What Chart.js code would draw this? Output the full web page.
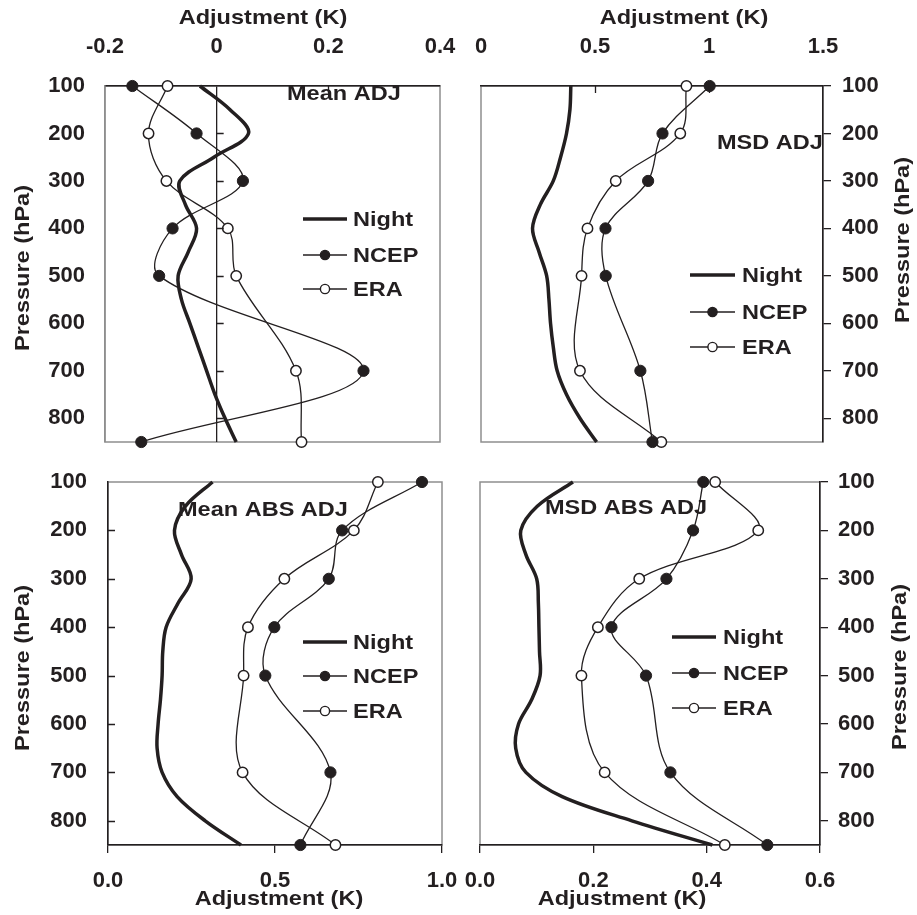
<!DOCTYPE html>
<html>
<head>
<meta charset="utf-8">
<script src="https://cdn.jsdelivr.net/npm/chart.js@4.4.1/dist/chart.umd.min.js"></script>
<style>
  html, body { margin: 0; padding: 0; background: #fff; }
  #wrap { position: relative; width: 917px; height: 915px; overflow: hidden; background: #fff; }
  #wrap canvas { position: absolute; }
</style>
</head>
<body>
<div id="wrap"></div>
<script>
const INK = '#231f20';
const FRAME = '#8e8e8e';
const FONT = '"Liberation Sans", Arial, sans-serif';
const STRETCH = 1.12; // the original lettering is a bit wide

// pressure levels (hPa)
const levels = [100, 200, 300, 400, 500, 700, 850];
const nightLevels = [100, 150, 200, 250, 300, 350, 400, 450, 500, 550, 600, 650, 700, 750, 800, 850];
const pressureTicks = [100, 200, 300, 400, 500, 600, 700, 800];
const seriesNames = ['Night', 'NCEP', 'ERA'];

// Mean ADJ (K)
const meanNight = [-0.030, 0.024, 0.057, -0.005, -0.066, -0.056, -0.036, -0.051, -0.069, -0.063, -0.048, -0.033, -0.018, -0.003, 0.015, 0.035];
const meanNcep = [-0.151, -0.036, 0.047, -0.079, -0.103, 0.263, -0.135];
const meanEra = [-0.088, -0.122, -0.090, 0.020, 0.035, 0.142, 0.152];
const meanTicks = [-0.2, 0, 0.2, 0.4];
const meanTickLabels = ['-0.2', '0', '0.2', '0.4'];

// MSD ADJ (K)
const msdNight = [0.394, 0.390, 0.375, 0.349, 0.317, 0.260, 0.226, 0.255, 0.288, 0.298, 0.305, 0.317, 0.334, 0.375, 0.434, 0.507];
const msdNcep = [1.003, 0.796, 0.733, 0.546, 0.547, 0.699, 0.752];
const msdEra = [0.901, 0.874, 0.591, 0.467, 0.441, 0.434, 0.791];
const msdTicks = [0, 0.5, 1, 1.5];
const msdTickLabels = ['0', '0.5', '1', '1.5'];

// Mean ABS ADJ (K)
const absNight = [0.313, 0.232, 0.199, 0.220, 0.249, 0.210, 0.174, 0.164, 0.162, 0.157, 0.150, 0.147, 0.162, 0.207, 0.291, 0.398];
const absNcep = [0.940, 0.701, 0.661, 0.498, 0.471, 0.666, 0.576];
const absEra = [0.808, 0.736, 0.528, 0.419, 0.406, 0.403, 0.681];
const absTicks = [0, 0.5, 1];
const absTickLabels = ['0.0', '0.5', '1.0'];

// MSD ABS ADJ (K)
const msdAbsNight = [0.164, 0.101, 0.072, 0.081, 0.100, 0.103, 0.104, 0.105, 0.106, 0.091, 0.068, 0.063, 0.081, 0.145, 0.268, 0.410];
const msdAbsNcep = [0.394, 0.376, 0.329, 0.232, 0.293, 0.336, 0.507];
const msdAbsEra = [0.415, 0.491, 0.281, 0.208, 0.179, 0.220, 0.432];
const msdAbsTicks = [0, 0.2, 0.4, 0.6];
const msdAbsTickLabels = ['0.0', '0.2', '0.4', '0.6'];

const xTitle = 'Adjustment (K)';
const yTitle = 'Pressure (hPa)';

// panel layout, page coordinates
const panels = [
  {
    title: 'Mean ADJ', night: meanNight, ncep: meanNcep, era: meanEra,
    xTicks: meanTicks, xLabels: meanTickLabels, xMin: -0.2, xMax: 0.4,
    left: 0, top: 0, w: 470, h: 460, area: { l: 105, t: 86, r: 440, b: 442 },
    xPos: 'top', yPos: 'left', xPad: 26, yPad: 20,
    xBorder: INK, yBorder: FRAME, zeroLine: true,
    titlePos: [287, 94], xTitlePos: [263, 18], yTitlePos: [23, 268],
    legend: { x1: 303, x2: 347, tx: 353, ys: [219, 255, 289] },
    yMarksAt: 0, xMarks: [0.2]
  },
  {
    title: 'MSD ADJ', night: msdNight, ncep: msdNcep, era: msdEra,
    xTicks: msdTicks, xLabels: msdTickLabels, xMin: 0, xMax: 1.5,
    left: 450, top: 0, w: 467, h: 460, area: { l: 481, t: 86, r: 823, b: 442 },
    xPos: 'top', yPos: 'right', xPad: 26, yPad: 11,
    xBorder: INK, yBorder: INK, zeroLine: false,
    titlePos: [717, 143], xTitlePos: [684, 18], yTitlePos: [903, 240],
    legend: { x1: 690, x2: 735, tx: 742, ys: [275, 312, 347] },
    yMarksAt: null, xMarks: [0.5, 1]
  },
  {
    title: 'Mean ABS ADJ', night: absNight, ncep: absNcep, era: absEra,
    xTicks: absTicks, xLabels: absTickLabels, xMin: 0, xMax: 1,
    left: 0, top: 455, w: 470, h: 460, area: { l: 108, t: 482, r: 442, b: 845 },
    xPos: 'bottom', yPos: 'left', xPad: 15, yPad: 21,
    xBorder: INK, yBorder: INK, zeroLine: false,
    titlePos: [178, 510], xTitlePos: [279, 899], yTitlePos: [23, 668],
    legend: { x1: 303, x2: 347, tx: 353, ys: [642, 676, 711] },
    yMarksAt: 0, xMarks: []
  },
  {
    title: 'MSD ABS ADJ', night: msdAbsNight, ncep: msdAbsNcep, era: msdAbsEra,
    xTicks: msdAbsTicks, xLabels: msdAbsTickLabels, xMin: 0, xMax: 0.6,
    left: 450, top: 455, w: 467, h: 460, area: { l: 480, t: 482, r: 820, b: 845 },
    xPos: 'bottom', yPos: 'right', xPad: 15, yPad: 10,
    xBorder: INK, yBorder: INK, zeroLine: false,
    titlePos: [545, 508], xTitlePos: [622, 899], yTitlePos: [900, 667],
    legend: { x1: 672, x2: 716, tx: 723, ys: [637, 673, 708] },
    yMarksAt: null, xMarks: []
  }
];

function pts(values, lv) {
  return lv.map((p, i) => ({ x: values[i], y: p }));
}

function drawText(ctx, text, x, y, align, rot, size) {
  ctx.save();
  ctx.translate(x, y);
  if (rot) ctx.rotate(rot);
  ctx.scale(STRETCH, 1);
  ctx.font = 'bold ' + size + 'px ' + FONT;
  ctx.fillStyle = INK;
  ctx.textAlign = align;
  ctx.textBaseline = 'middle';
  ctx.fillText(text, 0, 0);
  ctx.restore();
}

// frame, inner tick marks, legend and labels
function makeDeco(p) {
  return {
    id: 'deco',
    beforeDraw(chart) {
      const { ctx, chartArea: a } = chart;
      ctx.save();
      ctx.strokeStyle = FRAME;
      ctx.lineWidth = 1.5;
      ctx.strokeRect(a.left, a.top, a.right - a.left, a.bottom - a.top);
      ctx.restore();
    },
    afterDraw(chart) {
      const { ctx, chartArea: a, scales } = chart;
      const ox = p.left, oy = p.top;
      ctx.save();
      ctx.strokeStyle = INK;
      ctx.lineWidth = 1.3;
      ctx.beginPath();
      if (p.yMarksAt !== null) {
        const x0 = scales.x.getPixelForValue(p.yMarksAt);
        pressureTicks.forEach(v => {
          if (v === 100) return;
          const y = Math.round(scales.y.getPixelForValue(v)) + 0.5;
          ctx.moveTo(x0, y); ctx.lineTo(x0 + 7, y);
        });
      }
      p.xMarks.forEach(v => {
        const x = Math.round(scales.x.getPixelForValue(v)) + 0.5;
        ctx.moveTo(x, a.top); ctx.lineTo(x, a.top + 7);
      });
      ctx.stroke();

      // legend
      const lg = p.legend;
      lg.ys.forEach((py, i) => {
        const y = py - oy;
        ctx.beginPath();
        ctx.lineWidth = i === 0 ? 3.5 : 1.3;
        ctx.moveTo(lg.x1 - ox, y); ctx.lineTo(lg.x2 - ox, y);
        ctx.stroke();
        if (i > 0) {
          ctx.beginPath();
          ctx.lineWidth = 1.4;
          ctx.arc((lg.x1 + lg.x2) / 2 - ox, y, 4.6, 0, Math.PI * 2);
          ctx.fillStyle = i === 1 ? INK : '#fff';
          ctx.fill();
          ctx.stroke();
        }
        drawText(ctx, seriesNames[i], lg.tx - ox, y + 1, 'left', 0, 21);
      });

      drawText(ctx, p.title, p.titlePos[0] - ox, p.titlePos[1] - oy, 'left', 0, 21);
      drawText(ctx, xTitle, p.xTitlePos[0] - ox, p.xTitlePos[1] - oy, 'center', 0, 21);
      drawText(ctx, yTitle, p.yTitlePos[0] - ox, p.yTitlePos[1] - oy, 'center', -Math.PI / 2, 21);
      ctx.restore();
    }
  };
}

const wrap = document.getElementById('wrap');
const tickFont = { family: FONT, size: 22, weight: 'bold' };

panels.forEach(p => {
  const cv = document.createElement('canvas');
  cv.width = p.w; cv.height = p.h;
  cv.style.left = p.left + 'px'; cv.style.top = p.top + 'px';
  cv.style.width = p.w + 'px'; cv.style.height = p.h + 'px';
  wrap.appendChild(cv);

  const a = p.area;
  const xSize = p.xPos === 'top' ? a.t - p.top : p.top + p.h - a.b;
  const ySize = p.yPos === 'left' ? a.l - p.left : p.left + p.w - a.r;
  const padding = {
    left: p.yPos === 'left' ? 0 : a.l - p.left,
    right: p.yPos === 'right' ? 0 : p.left + p.w - a.r,
    top: p.xPos === 'top' ? 0 : a.t - p.top,
    bottom: p.xPos === 'bottom' ? 0 : p.top + p.h - a.b
  };
  const noPad = s => { s.paddingLeft = 0; s.paddingRight = 0; s.paddingTop = 0; s.paddingBottom = 0; };
  const outerX = p.xPos === 'bottom';
  const outerY = p.yPos === 'right';

  new Chart(cv, {
    type: 'scatter',
    data: {
      datasets: [
        {
          label: seriesNames[1], data: pts(p.ncep, levels), showLine: true, tension: 0.35,
          borderColor: INK, borderWidth: 1.3, pointRadius: 5.6, pointBorderWidth: 1,
          pointBackgroundColor: INK, pointBorderColor: INK, clip: false
        },
        {
          label: seriesNames[2], data: pts(p.era, levels), showLine: true, tension: 0.35,
          borderColor: INK, borderWidth: 1.3, pointRadius: 5.2, pointBorderWidth: 1.5,
          pointBackgroundColor: '#fff', pointBorderColor: INK, clip: false
        },
        {
          label: seriesNames[0], data: pts(p.night, nightLevels), showLine: true, tension: 0.35,
          borderColor: INK, borderWidth: 3.5, pointRadius: 0, clip: false
        }
      ]
    },
    options: {
      responsive: false,
      animation: false,
      devicePixelRatio: 1,
      events: [],
      layout: { padding },
      plugins: { legend: { display: false }, tooltip: { enabled: false } },
      scales: {
        x: {
          type: 'linear', position: p.xPos, min: p.xMin, max: p.xMax,
          afterBuildTicks: s => { s.ticks = p.xTicks.map(v => ({ value: v })); },
          afterFit: s => { s.height = xSize; noPad(s); },
          ticks: {
            color: INK, font: tickFont, padding: p.xPad, maxRotation: 0, autoSkip: false,
            callback: (v, i) => p.xLabels[i]
          },
          grid: {
            display: outerX || p.zeroLine,
            drawOnChartArea: p.zeroLine,
            drawTicks: outerX,
            tickLength: 8,
            lineWidth: 1.3,
            color: c => (outerX || (c.tick && c.tick.value === 0)) ? INK : 'rgba(0,0,0,0)'
          },
          border: { display: true, color: p.xBorder, width: 1.5 }
        },
        y: {
          type: 'linear', position: p.yPos, reverse: true, min: 100, max: 850,
          afterBuildTicks: s => { s.ticks = pressureTicks.map(v => ({ value: v })); },
          afterFit: s => { s.width = ySize; noPad(s); },
          ticks: { color: INK, font: tickFont, padding: p.yPad, callback: v => String(v) },
          grid: {
            display: outerY, drawOnChartArea: false, drawTicks: outerY,
            tickLength: 8, lineWidth: 1.3, color: INK
          },
          border: { display: true, color: p.yBorder, width: 1.5 }
        }
      }
    },
    plugins: [makeDeco(p)]
  });
});
</script>
</body>
</html>
